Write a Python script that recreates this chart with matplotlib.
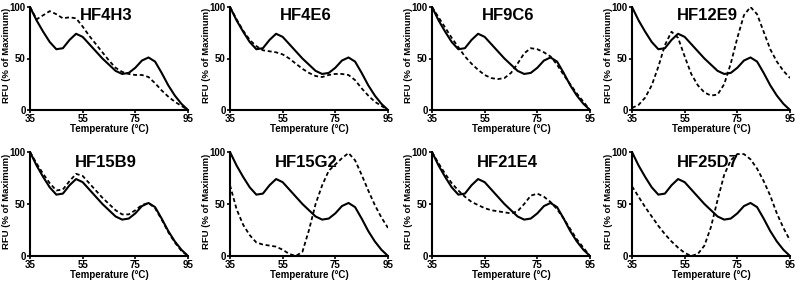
import numpy as np
import matplotlib
matplotlib.use('Agg')
import matplotlib.pyplot as plt

plt.rcParams['font.family'] = ['Liberation Sans', 'DejaVu Sans']
plt.rcParams['font.weight'] = 'bold'

temperature = [35, 37.5, 40, 42.5, 45, 47.5, 50, 52.5, 55, 57.5, 60, 62.5, 65,
               67.5, 70, 72.5, 75, 77.5, 80, 82.5, 85, 87.5, 90, 92.5, 95]

# reference curve (solid), same in every panel
reference = [100, 87, 76, 66, 59, 60, 68, 74, 71, 64, 57, 50, 44,
             38, 35, 36, 41, 48, 51, 47, 36, 24, 14, 6, 0]

names = ['HF4H3', 'HF4E6', 'HF9C6', 'HF12E9', 'HF15B9', 'HF15G2', 'HF21E4', 'HF25D7']

hf4h3 = [100, 88, 92, 96, 93, 89, 90, 89, 81, 72, 64, 56, 48,
         41, 37, 35, 34, 34, 32, 26, 19, 13, 8, 4, 0]
hf4e6 = [100, 88, 77, 68, 62, 58, 57, 56, 54, 50, 45, 40, 36,
         33, 32, 34, 35, 35, 34, 29, 21, 14, 8, 4, 0]
hf9c6 = [100, 90, 80, 70, 61, 52, 45, 39, 34, 31, 30, 31, 36,
         45, 55, 60, 59, 56, 52, 44, 34, 25, 16, 8, 0]
hf12e9 = [2, 5, 12, 24, 42, 63, 76, 70, 52, 35, 24, 17, 14,
          15, 25, 45, 70, 92, 100, 93, 76, 59, 47, 38, 31]
hf15b9 = [100, 89, 79, 70, 63, 64, 72, 79, 77, 70, 63, 56, 50,
          44, 40, 40, 44, 49, 51, 46, 35, 23, 13, 5, 0]
hf15g2 = [68, 45, 30, 20, 13, 11, 10, 9, 6, 2, 0, 4, 25,
          50, 68, 82, 88, 94, 99, 92, 78, 63, 49, 37, 27]
hf21e4 = [100, 89, 79, 70, 63, 57, 52, 49, 46, 44, 43, 42, 41,
          43, 50, 58, 60, 57, 52, 45, 36, 26, 16, 8, 0]
hf25d7 = [67, 57, 47, 38, 29, 21, 14, 8, 3, 0, 2, 10, 28,
          54, 78, 92, 98, 98, 93, 84, 72, 58, 41, 27, 15]

samples = [hf4h3, hf4e6, hf9c6, hf12e9, hf15b9, hf15g2, hf21e4, hf25d7]

fig = plt.figure(figsize=(8, 2.82), dpi=100)

lefts = [30, 230, 432, 632]
for i in range(8):
    row = i // 4
    col = i % 4
    if row == 0:
        top, bottom = 7, 110
    else:
        top, bottom = 152, 256
    ax = fig.add_axes([lefts[col] / 800, 1 - bottom / 282, 158 / 800, (bottom - top) / 282])

    ax.plot(temperature, reference, color='black', linewidth=1.5, solid_capstyle='round')
    ax.plot(temperature, samples[i], color='black', linewidth=1.3, linestyle=(0, (2.2, 1.5)))

    ax.set_xlim(35, 95)
    ax.set_ylim(0, 100)
    ax.set_xticks([35, 55, 75, 95])
    ax.set_yticks([0, 50, 100])
    ax.tick_params(labelsize=7, width=1.2, length=2, pad=1)
    for lab in ax.get_xticklabels() + ax.get_yticklabels():
        lab.set_fontweight('bold')

    ax.spines['top'].set_visible(False)
    ax.spines['right'].set_visible(False)
    ax.spines['left'].set_linewidth(1.5)
    ax.spines['bottom'].set_linewidth(1.5)
    ax.patch.set_alpha(0)

    ax.set_xlabel('Temperature (°C)', fontsize=7, fontweight='bold', labelpad=0)
    ax.set_ylabel('RFU (% of Maximum)', fontsize=6.8, fontweight='bold')
    ax.yaxis.set_label_coords(-0.12, 0.53)

    ty = 0.92 if row == 0 else 0.90
    ax.text(0.48, ty, names[i], transform=ax.transAxes, ha='center', va='center',
            fontsize=12, fontweight='bold')

plt.savefig('out.png', dpi=100)
